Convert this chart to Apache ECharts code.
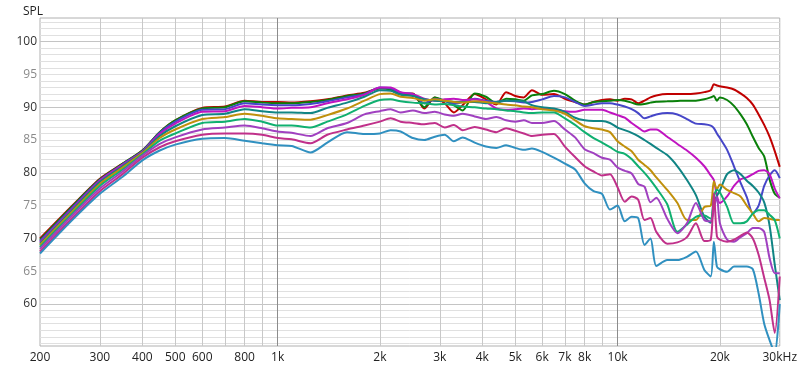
<!DOCTYPE html>
<html><head><meta charset="utf-8">
<script src="https://cdn.jsdelivr.net/npm/echarts@6/dist/echarts.min.js"></script>
<style>html,body{margin:0;padding:0;background:#fff}#c{width:800px;height:371px}</style>
</head><body><div id="c"></div>
<script>
const freqs = [200,250,300,350,400,450,500,600,700,800,900,1000,1100,1250,1400,1600,1800,2000,2150,2300,2500,2700,2900,3100,3300,3500,3800,4100,4400,4700,5000,5300,5600,6000,6500,7000,7500,8000,8500,9000,9500,10000,10500,11000,11500,12000,12500,13000,14000,15000,16000,17000,18000,18800,19200,19600,20000,21000,22000,23000,24000,25000,26000,27000,28000,29000,30000];

const deg0 = [70.0,75.1,79.1,81.4,83.4,86.2,88.0,89.9,90.1,91.0,90.8,90.8,
90.7,90.9,91.2,91.8,92.2,92.9,92.7,92.0,92.1,
89.8,91.5,90.6,89.2,90.3,92.0,91.2,90.4,92.3,91.7,
91.5,92.6,91.9,92.0,91.3,90.8,90.4,90.8,91.1,91.2,91.0,
91.3,91.2,90.6,91.0,91.5,91.8,92.0,92.0,92.0,92.1,92.3,
92.6,93.5,93.3,93.2,93.0,92.7,92.1,91.4,90.4,88.9,87.3,85.5,83.3,80.9];
const deg10 = [69.8,75.0,79.0,81.4,83.4,86.2,88.0,89.8,90.0,90.9,90.7,90.6,
90.6,90.8,91.1,91.7,92.1,92.9,92.7,92.0,92.0,
90.0,91.5,91.0,90.3,89.5,92.1,91.6,90.6,91.3,91.2,
91.0,91.8,92.0,92.5,92.0,91.0,90.4,90.8,90.9,91.0,91.1,
91.0,90.7,90.4,90.5,90.7,90.85,90.9,90.95,91.0,91.0,91.2,
91.5,91.7,91.0,91.5,91.1,90.2,88.9,87.4,85.5,83.8,82.5,79.0,76.8,76.2];
const deg20 = [69.6,74.8,78.9,81.3,83.3,86.1,87.8,89.6,89.7,90.6,90.4,90.3,
90.3,90.5,90.9,91.5,92.0,93.0,92.9,92.2,92.0,
90.6,91.3,91.0,90.5,90.8,91.3,91.0,90.8,91.0,90.9,
90.7,90.8,91.2,91.7,91.5,90.8,90.2,90.4,90.6,90.6,90.4,
90.1,89.7,89.1,88.3,88.6,88.9,89.1,88.9,88.2,87.5,87.4,
87.2,86.8,86.0,85.3,83.5,81.0,78.5,76.3,73.8,75.0,78.0,79.6,80.4,79.2];
const deg30 = [69.4,74.6,78.8,81.2,83.2,85.9,87.5,89.3,89.4,90.2,90.0,89.8,
89.9,90.0,90.6,91.2,91.9,93.0,93.0,92.3,92.0,
91.3,91.0,91.2,91.3,91.1,91.2,90.8,89.8,89.6,89.7,
89.8,89.7,89.8,89.7,89.4,89.3,89.6,89.6,89.6,89.2,88.8,
88.4,87.6,86.9,86.3,86.6,86.6,85.5,84.4,83.4,82.3,81.0,
79.6,78.9,76.5,75.4,76.4,78.0,79.0,79.3,79.8,80.3,80.4,79.8,77.6,76.1];
const deg40 = [69.2,74.4,78.6,81.0,83.1,85.6,87.1,88.8,89.0,89.7,89.4,89.2,
89.2,89.1,89.9,90.7,91.6,92.6,92.5,91.9,91.7,
91.2,91.0,90.9,90.8,90.8,90.8,90.6,90.8,91.0,91.0,
90.9,90.3,90.0,89.8,89.3,88.4,88.0,87.9,87.9,87.6,86.9,
86.5,86.1,85.6,85.0,84.4,83.8,82.7,81.0,78.9,76.6,73.3,
72.4,75.5,76.5,77.3,79.8,80.4,79.8,78.8,78.0,77.0,75.5,72.0,66.0,60.6];
const deg50 = [69.0,74.2,78.3,80.8,83.0,85.3,86.6,88.2,88.5,89.0,88.7,88.3,
88.2,88.1,88.8,89.8,91.0,92.0,92.1,91.6,91.4,
91.0,91.2,91.0,90.8,90.7,90.9,90.8,90.6,90.4,90.3,
90.1,90.0,89.7,89.5,89.0,88.0,87.1,86.8,86.6,86.2,84.8,
84.0,83.3,82.0,81.2,80.4,79.3,77.4,75.4,72.8,72.8,74.8,
75.0,78.7,77.5,78.2,77.4,76.9,76.4,75.0,73.8,72.6,73.1,73.0,72.8,72.8];
const deg60 = [68.7,73.9,78.0,80.5,82.8,84.9,86.0,87.6,87.8,88.2,87.8,87.2,
87.2,86.9,87.8,88.9,90.2,91.1,91.2,90.9,90.7,
90.6,90.4,90.5,90.3,90.1,90.0,89.8,89.7,89.5,89.4,
89.2,89.1,89.2,89.2,88.3,87.3,86.2,85.3,84.6,83.9,83.2,
82.9,82.1,81.0,80.0,78.9,77.7,75.2,71.0,72.1,73.3,73.5,
73.0,76.4,77.4,77.0,74.8,72.3,72.3,72.6,73.8,74.3,74.3,73.6,72.8,70.0];
const deg70 = [68.4,73.6,77.6,80.2,82.6,84.4,85.4,86.6,86.9,87.2,86.8,86.3,
86.1,85.6,86.8,87.6,88.9,89.4,89.7,89.2,89.5,
89.1,89.3,88.9,88.7,89.0,88.6,88.2,88.5,88.0,87.8,
88.0,87.6,87.6,87.9,86.6,85.4,83.6,83.0,82.3,82.0,80.8,
80.3,79.9,78.3,77.9,75.5,76.2,73.0,70.8,72.3,75.4,72.8,
72.6,74.5,76.4,72.3,69.8,69.5,70.2,70.8,71.6,71.6,71.0,67.0,64.7,64.7];
const deg80 = [68.0,73.2,77.2,79.8,82.3,83.9,84.8,85.8,86.0,86.0,85.8,85.3,
85.1,84.5,85.8,86.6,87.2,87.8,88.3,87.8,87.6,
87.4,87.6,86.9,87.3,86.5,87.0,86.6,86.2,86.8,86.4,
86.0,85.6,85.8,85.9,84.0,82.4,81.0,80.2,79.6,79.8,77.8,
75.6,76.4,75.9,72.8,73.1,71.0,69.2,69.4,70.2,72.3,69.6,
69.8,76.9,70.3,69.8,69.5,69.8,70.4,70.9,70.0,67.5,64.0,60.6,55.6,64.2];
const deg90 = [67.7,72.9,76.8,79.4,81.9,83.4,84.3,85.2,85.3,84.9,84.5,84.2,
84.1,83.1,84.6,86.2,85.9,86.0,86.5,86.3,85.3,
85.0,85.5,85.8,84.8,85.4,84.6,84.0,83.8,84.2,83.8,
83.5,83.7,83.2,82.3,81.4,80.5,78.4,77.2,76.8,74.4,75.0,
72.6,73.3,73.1,69.0,70.0,65.8,66.7,66.7,67.2,68.0,65.2,
64.2,69.5,65.7,65.3,64.9,65.7,65.7,65.7,65.3,61.6,57.0,54.5,52.5,60.0];

const seriesNames = ['0°','10°','20°','30°','40°','50°','60°','70°','80°','90°'];
const seriesValues = [deg0,deg10,deg20,deg30,deg40,deg50,deg60,deg70,deg80,deg90];
const colors = ['#c00000','#0a800a','#4646c8','#c014c0','#108484','#c0900c','#10b070','#a040c0','#c0308a','#3090c0'];

const xLabelFreqs = [200,300,400,500,600,800,1000,2000,3000,4000,5000,6000,7000,8000,10000,20000,30000];
const xLabelTexts = ['200','300','400','500','600','800','1k','2k','3k','4k','5k','6k','7k','8k','10k','20k','30kHz'];
const xGridFreqs = [300,400,500,600,700,800,900,2000,3000,4000,5000,6000,7000,8000,9000,20000];
const xMajorGridFreqs = [1000,10000];
const yLabelValues = [60,65,70,75,80,85,90,95,100];
const yMajorGrid = [60,70,80,90,100];
const yMin = 53.6, yMax = 103.6;
const yMinorGrid = [];
for (let v = 54; v <= 103; v++) if (v % 10 !== 0) yMinorGrid.push(v);

const lg = Math.log10;
const xMin = lg(200), xMax = lg(30000);

function xLabel(v) {
  for (let i = 0; i < xLabelFreqs.length; i++) {
    if (Math.abs(lg(xLabelFreqs[i]) - v) < 1e-6) return xLabelTexts[i];
  }
  return '';
}

const chart = echarts.init(document.getElementById('c'), null, {renderer: 'canvas'});
chart.setOption({
  animation: false,
  textStyle: {fontFamily: 'Open Sans'},
  title: {text: 'SPL', left: 18, top: 1, textStyle: {fontSize: 12, fontWeight: 'normal', color: '#222', fontFamily: 'Open Sans'}},
  grid: {left: 40, right: 20, top: 18, bottom: 25, show: true, borderColor: '#b0b0b0', borderWidth: 1},
  xAxis: [
    {type: 'value', min: xMin, max: xMax, position: 'bottom',
     axisLine: {show: false}, axisTick: {show: false, customValues: xGridFreqs.map(lg)},
     splitLine: {show: true, lineStyle: {color: '#c8c8c8', width: 1}},
     axisLabel: {customValues: xLabelFreqs.map(lg), formatter: xLabel, color: '#222', fontSize: 12, margin: 6}},
    {type: 'value', min: xMin, max: xMax, position: 'bottom',
     axisLine: {show: false}, axisTick: {show: false, customValues: xMajorGridFreqs.map(lg)},
     splitLine: {show: true, lineStyle: {color: '#8c8c8c', width: 1}},
     axisLabel: {show: false}}
  ],
  yAxis: [
    {type: 'value', min: yMin, max: yMax,
     axisLine: {show: false}, axisTick: {show: false, customValues: yMinorGrid},
     splitLine: {show: true, lineStyle: {color: '#e0e0e0', width: 1}},
     axisLabel: {customValues: yLabelValues, fontSize: 12, margin: 3,
       color: function (v) { return (Math.round(v) % 10 === 0) ? '#333' : '#8a8a8a'; }}},
    {type: 'value', min: yMin, max: yMax, position: 'left',
     axisLine: {show: false}, axisTick: {show: false, customValues: yMajorGrid},
     splitLine: {show: true, lineStyle: {color: '#c4c4c4', width: 1}},
     axisLabel: {show: false}}
  ],
  series: seriesValues.map((vals, k) => ({
    name: seriesNames[k], type: 'line', xAxisIndex: 0, yAxisIndex: 0,
    data: freqs.map((f, i) => [lg(f), vals[i]]),
    showSymbol: false, smooth: 0.25,
    lineStyle: {width: 2, color: colors[k]}, itemStyle: {color: colors[k]},
    z: 2 + k
  }))
});
</script></body></html>
